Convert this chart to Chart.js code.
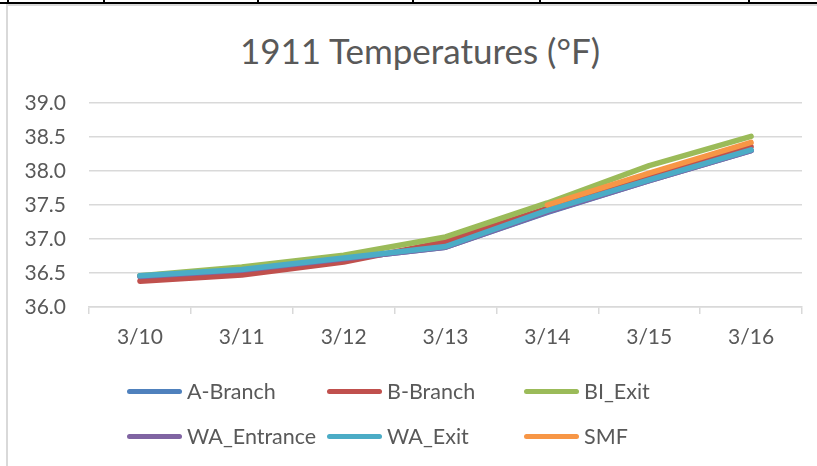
<!DOCTYPE html>
<html>
<head>
<meta charset="utf-8">
<script src="https://cdn.jsdelivr.net/npm/chart.js@4"></script>
<style>
  html, body { margin: 0; padding: 0; background: #fff; }
  body { width: 817px; height: 466px; position: relative; overflow: hidden; font-family: Lato, "Open Sans", sans-serif; }
  #wrap { position: absolute; left: 0; top: 0; width: 817px; height: 466px; }
  .bar-top { position: absolute; left: 0; top: 2px; width: 817px; height: 2px; background: #000; }
  .cell-tick { position: absolute; top: 0; width: 2px; height: 3px; background: #000; }
  .frame-top { position: absolute; left: 6px; top: 4px; width: 811px; height: 2px; background: #d9d9d9; }
  .frame-left { position: absolute; left: 6px; top: 4px; width: 2px; height: 462px; background: #d9d9d9; }
  #title { position: absolute; left: 0; top: 29px; width: 840px; text-align: center; font-size: 35px; color: #595959; }
  .legend-item { position: absolute; height: 26px; display: flex; align-items: center; font-size: 21.5px; color: #595959; white-space: nowrap; }
  .legend-item .swatch { width: 55px; height: 5px; border-radius: 3px; margin-right: 5px; }
</style>
</head>
<body>
<div class="bar-top"></div>
<div class="frame-top"></div>
<div class="frame-left"></div>
<div id="ticks"></div>
<div id="title">1911 Temperatures (°F)</div>
<div id="wrap"><canvas id="tempChart" width="817" height="466"></canvas></div>
<div id="legend"></div>
<script>
// Dates and readings (°F)
const dates = ['3/10', '3/11', '3/12', '3/13', '3/14', '3/15', '3/16'];
const aBranch    = [36.45, 36.54, 36.71, 36.88, 37.39, 37.86, 38.30];
const bBranch    = [36.38, 36.47, 36.66, 36.96, 37.45, 37.92, 38.36];
const biExit     = [36.46, 36.59, 36.76, 37.03, 37.53, 38.08, 38.51];
const waEntrance = [36.45, 36.54, 36.71, 36.88, 37.40, 37.86, 38.30];
const waExit     = [36.46, 36.55, 36.72, 36.89, 37.42, 37.87, 38.31];
const smf        = [null, null, null, null, 37.50, 37.97, 38.42];

const seriesNames = ['A-Branch', 'B-Branch', 'BI_Exit', 'WA_Entrance', 'WA_Exit', 'SMF'];
const seriesData = [aBranch, bBranch, biExit, waEntrance, waExit, smf];
const seriesColors = ['#4F81BD', '#C0504D', '#9BBB59', '#8064A2', '#4BACC6', '#F79646'];

// spreadsheet cell border marks along the top
const cellEdges = [7, 103, 257, 412, 539, 748];
const tickBox = document.getElementById('ticks');
cellEdges.forEach(x => {
    const d = document.createElement('div');
    d.className = 'cell-tick';
    d.style.left = x + 'px';
    tickBox.appendChild(d);
});

const datasets = seriesNames.map((name, i) => ({
    label: name,
    data: seriesData[i],
    borderColor: seriesColors[i],
    backgroundColor: seriesColors[i],
    borderWidth: 5.5,
    borderCapStyle: 'round',
    borderJoinStyle: 'round',
    pointRadius: 0,
    pointHoverRadius: 0,
    tension: 0,
    spanGaps: false,
    order: seriesNames.length - i   // later series on top, like Excel
}));

const ctx = document.getElementById('tempChart').getContext('2d');
new Chart(ctx, {
    type: 'line',
    data: { labels: dates, datasets: datasets },
    options: {
        responsive: false,
        animation: false,
        layout: { padding: { left: 8, right: 15, top: 103, bottom: 109 } },
        plugins: {
            legend: { display: false },
            title: { display: false },
            tooltip: { enabled: false }
        },
        scales: {
            x: {
                offset: true,
                grid: {
                    offset: true,
                    drawOnChartArea: false,
                    drawTicks: true,
                    tickLength: 7,
                    color: '#d9d9d9',
                    lineWidth: 1.5
                },
                border: { display: true, color: '#d9d9d9', width: 1.5 },
                ticks: {
                    color: '#595959',
                    font: { family: 'Lato', size: 21 },
                    padding: 11,
                    maxRotation: 0
                },
                afterFit: function(scale) { scale.height = 50; }
            },
            y: {
                min: 36,
                max: 39,
                ticks: {
                    stepSize: 0.5,
                    color: '#595959',
                    font: { family: 'Lato', size: 21 },
                    padding: 23,
                    callback: function(value) { return value.toFixed(1); }
                },
                grid: { color: '#d9d9d9', lineWidth: 1.5, drawTicks: false },
                border: { display: false },
                afterFit: function(scale) { scale.width = 81; }
            }
        }
    }
});

// Legend, three columns by two rows
const legendCols = [127, 327, 524];
const legendRows = [378, 423];
const legendBox = document.getElementById('legend');
seriesNames.forEach((name, i) => {
    const item = document.createElement('div');
    item.className = 'legend-item';
    item.style.left = legendCols[i % 3] + 'px';
    item.style.top = legendRows[Math.floor(i / 3)] + 'px';
    const sw = document.createElement('span');
    sw.className = 'swatch';
    sw.style.background = seriesColors[i];
    const txt = document.createElement('span');
    txt.textContent = name;
    item.appendChild(sw);
    item.appendChild(txt);
    legendBox.appendChild(item);
});
</script>
</body>
</html>
